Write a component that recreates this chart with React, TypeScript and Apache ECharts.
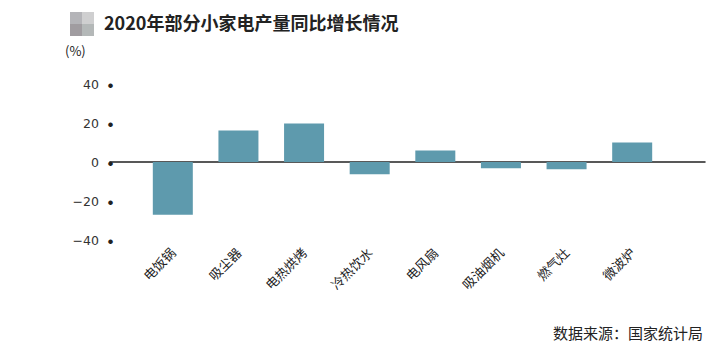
import React, { useEffect, useRef } from "react";
import * as echarts from "echarts";

const categories = ["电饭锅", "吸尘器", "电热烘烤", "冷热饮水", "电风扇", "吸油烟机", "燃气灶", "微波炉"];
const growth = [-27, 16.2, 19.8, -6.3, 5.9, -3.2, -3.7, 10];
const yTicks = [-40, -20, 0, 20, 40];

export default function App() {
  const ref = useRef<HTMLDivElement>(null);
  useEffect(() => {
    if (!ref.current) return;
    const chart = echarts.init(ref.current, null, { renderer: "svg" });
    const font = "'Noto Sans CJK SC', 'Noto Sans', sans-serif";
    chart.setOption({
      animation: false,
      backgroundColor: "#ffffff",
      grid: [
        { left: 140, right: 60, top: 84, bottom: 117 },
        { left: 110, right: 20, top: 84, bottom: 117 },
      ],
      xAxis: [
        {
          type: "category",
          gridIndex: 0,
          data: categories,
          position: "bottom",
          axisLine: { show: false },
          axisTick: { show: false },
          axisLabel: {
            rotate: 45,
            margin: 10,
            interval: 0,
            color: "#222",
            fontSize: 13,
            fontFamily: font,
          },
        },
        {
          type: "value",
          gridIndex: 1,
          min: 0,
          max: 1,
          axisLine: { show: true, onZero: true, lineStyle: { color: "#222", width: 1.5 } },
          axisTick: { show: false },
          axisLabel: { show: false },
          splitLine: { show: false },
        },
      ],
      yAxis: [
        {
          type: "value",
          gridIndex: 0,
          min: yTicks[0],
          max: yTicks[yTicks.length - 1],
          interval: 20,
          axisLine: { show: false },
          axisTick: { show: false },
          splitLine: { show: false },
          axisLabel: {
            margin: 27,
            color: "#333",
            fontSize: 12.5,
            fontFamily: font,
            formatter: (v: number) => `{n|${String(v).replace("-", "−")}}{d|●}`,
            rich: {
              n: { color: "#333", fontSize: 12.5, fontFamily: "'DejaVu Sans', sans-serif", width: 26, align: "right" },
              d: { color: "#222", fontSize: 5, width: 14, align: "right" },
            },
          },
        },
        {
          type: "value",
          gridIndex: 1,
          min: yTicks[0],
          max: yTicks[yTicks.length - 1],
          show: false,
        },
      ],
      series: [
        {
          type: "bar",
          xAxisIndex: 0,
          yAxisIndex: 0,
          data: growth,
          barWidth: 40,
          itemStyle: { color: "#5e9aad" },
          z: 3,
        },
      ],
      graphic: [
        { type: "rect", left: 70, top: 12, shape: { width: 12, height: 12 }, style: { fill: "#b4b4b8" } },
        { type: "rect", left: 82, top: 12, shape: { width: 12, height: 12 }, style: { fill: "#cfcfd0" } },
        { type: "rect", left: 70, top: 24, shape: { width: 12, height: 12 }, style: { fill: "#a09ca0" } },
        { type: "rect", left: 82, top: 24, shape: { width: 12, height: 12 }, style: { fill: "#b4b8b8" } },
        {
          type: "text",
          left: 104,
          top: 13,
          style: {
            text: "2020年部分小家电产量同比增长情况",
            fontSize: 18,
            fontWeight: "bold",
            fill: "#222",
            fontFamily: font,
          },
        },
        {
          type: "text",
          left: 65,
          top: 44,
          style: { text: "(%)", fontSize: 13, fill: "#222", fontFamily: font },
        },
        {
          type: "text",
          right: 22,
          top: 325,
          style: {
            text: "数据来源：国家统计局",
            fontSize: 15,
            fill: "#222",
            fontFamily: "'Noto Sans CJK SC', serif",
          },
        },
      ],
    });
    return () => chart.dispose();
  }, []);
  return <div ref={ref} style={{ width: 725, height: 357, position: "absolute", left: 0, top: 0 }} />;
}
